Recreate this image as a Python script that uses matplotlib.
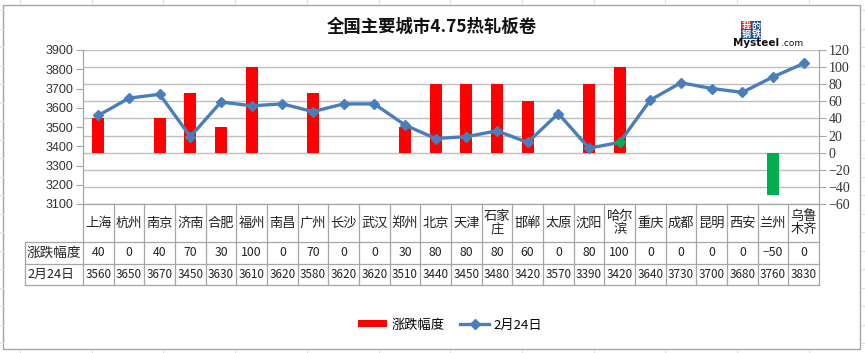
import matplotlib
matplotlib.use("Agg")
import matplotlib.pyplot as plt
from matplotlib.lines import Line2D
from matplotlib.patches import Rectangle
import numpy as np

plt.rcParams['font.family'] = ['Noto Sans CJK SC', 'DejaVu Sans']

cities = ["上海", "杭州", "南京", "济南", "合肥", "福州", "南昌", "广州", "长沙", "武汉",
          "郑州", "北京", "天津", "石家庄", "邯郸", "太原", "沈阳", "哈尔滨", "重庆", "成都",
          "昆明", "西安", "兰州", "乌鲁木齐"]
city_labels = ["上海", "杭州", "南京", "济南", "合肥", "福州", "南昌", "广州", "长沙", "武汉",
               "郑州", "北京", "天津", "石家\n庄", "邯郸", "太原", "沈阳", "哈尔\n滨", "重庆", "成都",
               "昆明", "西安", "兰州", "乌鲁\n木齐"]
changes = [40, 0, 40, 70, 30, 100, 0, 70, 0, 0, 30, 80, 80, 80, 60, 0, 80, 100, 0, 0, 0, 0, -50, 0]
prices = [3560, 3650, 3670, 3450, 3630, 3610, 3620, 3580, 3620, 3620, 3510, 3440, 3450, 3480,
          3420, 3570, 3390, 3420, 3640, 3730, 3700, 3680, 3760, 3830]
left_ticks = [3100, 3200, 3300, 3400, 3500, 3600, 3700, 3800, 3900]
right_ticks = [-60, -40, -20, 0, 20, 40, 60, 80, 100, 120]
bar_name = "涨跌幅度"
line_name = "2月24日"
title = "全国主要城市4.75热轧板卷"

W, H = 865, 353
def fx(x): return x / W
def fy(y): return 1 - y / H

fig = plt.figure(figsize=(W / 100, H / 100), dpi=100)

# sheet grid outside chart
grid_c = "#E0E0E0"
for x in np.arange(20, 865, 71.7):
    fig.add_artist(Line2D([fx(x), fx(x)], [fy(0), fy(4)], color=grid_c, lw=0.8))
    fig.add_artist(Line2D([fx(x), fx(x)], [fy(350), fy(353)], color=grid_c, lw=0.8))
for y in np.arange(10, 353, 18.5):
    fig.add_artist(Line2D([fx(0), fx(2.5)], [fy(y), fy(y)], color=grid_c, lw=0.8))
    fig.add_artist(Line2D([fx(861), fx(865)], [fy(y), fy(y)], color=grid_c, lw=0.8))
# chart border
fig.add_artist(Rectangle((fx(3), fy(349)), fx(857), (349 - 5) / H, fill=False,
                         edgecolor="#A6A6A6", lw=1.0))

L, R, T, B = 83, 819, 50, 204
ax = fig.add_axes([fx(L), fy(B), fx(R - L), (B - T) / H])
ax2 = ax.twinx()

n = len(cities)
x = np.arange(n)
bar_colors = ["#FF0000" if v >= 0 else "#00B050" for v in changes]
bars = ax2.bar(x, changes, width=0.4, color=bar_colors, label=bar_name, zorder=2)
ax2.set_ylim(-60, 120)
ax2.set_yticks(right_ticks)
ax2.grid(axis='y', color="#BFBFBF", lw=1.0, zorder=0)
ax2.set_axisbelow(True)

line, = ax.plot(x, prices, color="#4A7EBB", lw=2.4, marker="D", markersize=5.5,
                markerfacecolor="#4A7EBB", markeredgecolor="#4A7EBB", label=line_name, zorder=5)
# highlighted point (哈尔滨) drawn green
hi = cities.index("哈尔滨")
ax.plot([x[hi]], [prices[hi]], marker="D", markersize=5.5, color="#00B050", ls="none", zorder=6)
ax.set_ylim(3100, 3900)
ax.set_yticks(left_ticks)
ax.set_xlim(-0.5, n - 0.5)
ax.set_zorder(ax2.get_zorder() + 1)
ax.patch.set_visible(False)

for a in (ax, ax2):
    for s in ("top", "bottom"):
        a.spines[s].set_visible(False)
    a.spines["left"].set_color("#A6A6A6")
    a.spines["right"].set_color("#A6A6A6")
    a.set_xticks([])
ax.tick_params(axis='y', direction='out', length=5, color="#A6A6A6", labelsize=9,
               labelcolor="#333333", pad=2)
ax2.tick_params(axis='y', direction='out', length=5, color="#A6A6A6", labelsize=10,
                labelcolor="#333333", pad=2)
for lab in ax.get_yticklabels():
    lab.set_family("Liberation Sans")
for lab in ax2.get_yticklabels():
    lab.set_family(["Liberation Serif", "DejaVu Sans"])

# data table
tc = "#A6A6A6"
cw = (R - L) / n
r0, r1, r2, r3 = 204, 242, 264, 285
for k in range(n + 1):
    xx = L + k * cw
    fig.add_artist(Line2D([fx(xx), fx(xx)], [fy(r0), fy(r3)], color=tc, lw=0.9))
fig.add_artist(Line2D([fx(L), fx(R)], [fy(r0), fy(r0)], color=tc, lw=0.9))
for yy in (r1, r2, r3):
    fig.add_artist(Line2D([fx(25), fx(R)], [fy(yy), fy(yy)], color=tc, lw=0.9))
fig.add_artist(Line2D([fx(25), fx(25)], [fy(r1), fy(r3)], color=tc, lw=0.9))

fig.text(fx(27), fy((r1 + r2) / 2), bar_name, ha="left", va="center", fontsize=9.8, color="#222222")
fig.text(fx(27), fy((r2 + r3) / 2), line_name, ha="left", va="center", fontsize=9.2, color="#222222")
for k in range(n):
    cx = L + (k + 0.5) * cw
    fig.text(fx(cx), fy((r0 + r1) / 2), city_labels[k], ha="center", va="center",
             fontsize=9.5, color="#222222", linespacing=1.0)
    fig.text(fx(cx), fy((r1 + r2) / 2), f"{changes[k]}".replace("-", "−"), ha="center",
             va="center", fontsize=8.8, color="#222222")
    fig.text(fx(cx), fy((r2 + r3) / 2), f"{prices[k]}", ha="center", va="center",
             fontsize=8.4, color="#222222")

# title
fig.text(fx(432), fy(27), title, ha="center", va="center", fontsize=12.5,
         fontweight="bold", color="#111111")

# logo
logo = [("我", 746, 26, "#E8202A"), ("的", 756, 26, "#1F4E9C"),
        ("钢", 746, 34, "#1F4E9C"), ("铁", 756, 34, "#1F4E9C")]
for ch, lx, ly, c in logo:
    fig.text(fx(lx), fy(ly), ch, ha="center", va="center", fontsize=6.5, color="white",
             fontweight="bold",
             bbox=dict(boxstyle="square,pad=0.05", facecolor=c, edgecolor="none"))
fig.text(fx(733), fy(43), "Mysteel", ha="left", va="center", fontsize=7.5,
         fontweight="bold", family="DejaVu Sans", color="#111111")
fig.text(fx(781), fy(43.5), ".com", ha="left", va="center", fontsize=6.5,
         family="DejaVu Sans", color="#111111")

# legend
fig.legend(handles=[bars, line], labels=[bar_name, line_name], loc="center",
           bbox_to_anchor=(fx(450), fy(325)), ncol=2, frameon=False, fontsize=9.5,
           handlelength=2.2, handleheight=0.45, columnspacing=1.2, handletextpad=0.3)

fig.savefig("out.png", dpi=100)
